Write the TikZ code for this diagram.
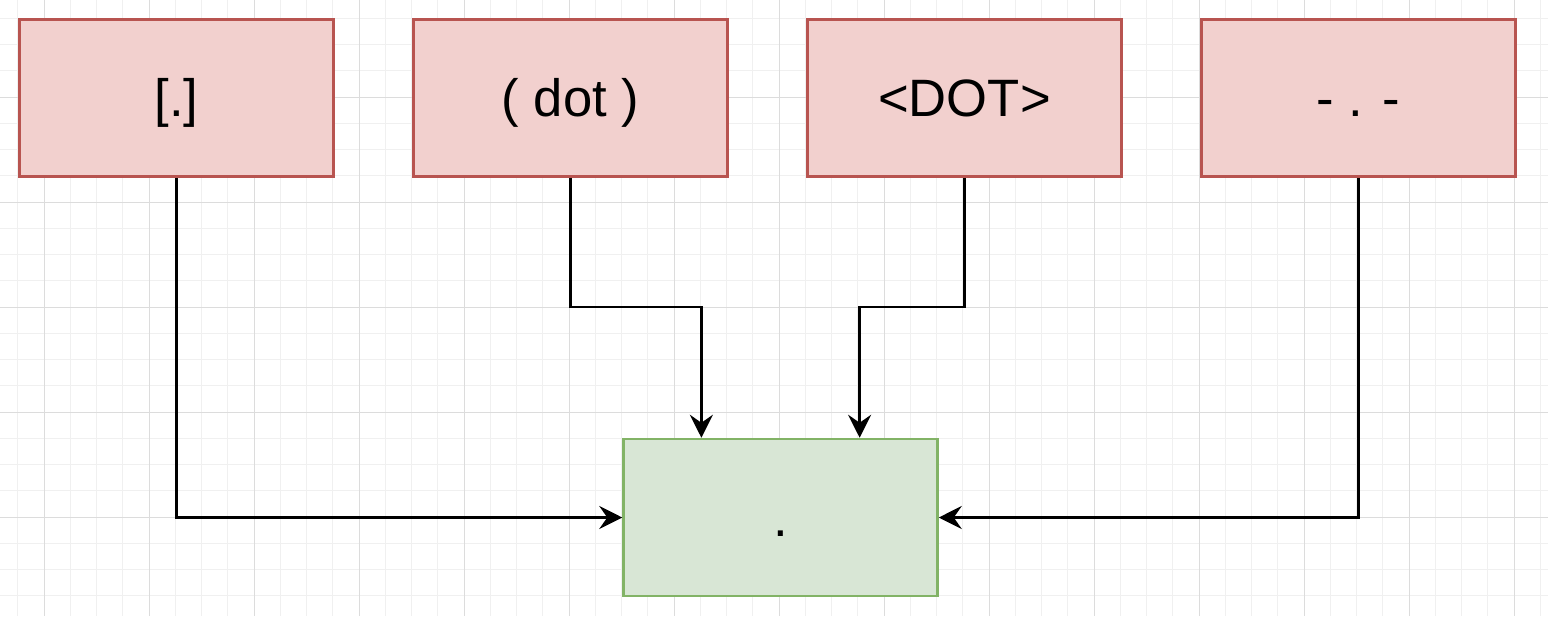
\documentclass[tikz,border=0pt]{standalone}
\usepackage{fontspec}
\setmainfont{Liberation Sans}
\usetikzlibrary{arrows.meta,calc}
\definecolor{redfill}{HTML}{F2D0CE}
\definecolor{redline}{HTML}{B85450}
\definecolor{greenfill}{HTML}{D8E6D5}
\definecolor{greenline}{HTML}{82B366}
\definecolor{gridminor}{HTML}{F0F0F0}
\definecolor{gridmajor}{HTML}{DCDCDC}
\tikzset{
  box/.style={draw, line width=2.5pt, minimum width=314pt, minimum height=157pt, inner sep=0pt,
    text height=37.7pt, text depth=0pt,
    font=\fontsize{52.6}{60}\selectfont},
  redbox/.style={box, fill=redfill, draw=redline},
  greenbox/.style={box, fill=greenfill, draw=greenline},
  conn/.style={draw=black, line width=2.6pt, -{Stealth[length=23pt, width=23pt, inset=8pt]}},
}
\begin{document}
\begin{tikzpicture}[x=1pt, y=-1pt]
\useasboundingbox (0,0) rectangle (1548,616);
\fill[white] (0,0) rectangle (1548,616);
% minor grid
\foreach \i in {0,...,58} {
  \pgfmathsetmacro{\xx}{17.75+26.25*\i}
  \draw[gridminor, line width=1pt] (\xx,0) -- (\xx,616);
}
\foreach \i in {0,...,23} {
  \pgfmathsetmacro{\yy}{18.25+26.25*\i}
  \draw[gridminor, line width=1pt] (0,\yy) -- (1548,\yy);
}
% major grid
\foreach \i in {0,...,14} {
  \pgfmathsetmacro{\xx}{44+105*\i}
  \draw[gridmajor, line width=1pt] (\xx,0) -- (\xx,616);
}
\foreach \i in {-1,...,5} {
  \pgfmathsetmacro{\yy}{97+105*\i}
  \draw[gridmajor, line width=1pt] (0,\yy) -- (1548,\yy);
}
\node[redbox] (a) at (176.5,98) {[.]};
\node[redbox] (b) at (570.5,98) {( dot )};
\node[redbox] (c) at (964.5,98) {<DOT>};
\node[redbox] (d) at (1358.5,98) {- . -};
\node[greenbox] (e) at (780.5,517.5) {.};
\coordinate (bm) at (570.5,307);
\coordinate (cm) at (964.5,307);
\draw[conn] (a.south) |- (e.west);
\draw[conn] (d.south) |- (e.east);
\draw[conn] (b.south) -- (bm) -| ($(e.north west)!0.25!(e.north east)$);
\draw[conn] (c.south) -- (cm) -| ($(e.north west)!0.75!(e.north east)$);
\end{tikzpicture}
\end{document}
